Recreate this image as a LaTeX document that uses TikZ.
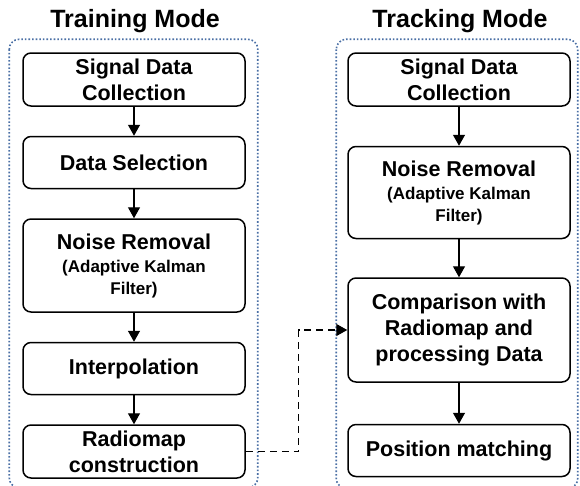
\documentclass[tikz,border=0pt]{standalone}
\usepackage{fontspec}
\setmainfont{Liberation Sans}
\usetikzlibrary{arrows.meta,positioning,calc}
\definecolor{frameblue}{HTML}{4A6FA5}
\newcommand{\subtxt}{\fontsize{17}{20}\selectfont}

\begin{document}
\begin{tikzpicture}[x=1pt,y=1pt,
  node distance=29pt,
  stage/.style={draw,rounded corners=8pt,line width=1.5pt,align=center,
    minimum width=222pt,minimum height=52pt,inner sep=2pt,
    font=\fontsize{21.5}{26}\selectfont\bfseries},
  flow/.style={-{Triangle[length=11pt,width=12pt]},line width=1.3pt},
  mode/.style={dotted,line width=1.6pt,draw=frameblue,rounded corners=10pt},
  heading/.style={font=\fontsize{25}{28}\selectfont\bfseries}]
\useasboundingbox (0,0) rectangle (580,-485);

% training mode column
\node[stage,minimum height=53pt] (tsig) at (134,-79.5) {Signal Data\\Collection};
\node[stage,below=of tsig] (tsel) {Data Selection};
\node[stage,below=of tsel,minimum height=93pt] (tnoise)
  {Noise Removal\\[-3pt]{\subtxt(Adaptive Kalman}\\[-4pt]{\subtxt Filter)}};
\node[stage,below=of tnoise] (tint) {Interpolation};
\node[stage,below=of tint,minimum height=53pt] (trad) {Radiomap\\construction};

% tracking mode column
\node[stage,minimum height=53pt] (ksig) at (459,-79.5) {Signal Data\\Collection};
\node[stage,below=39pt of ksig,minimum height=92pt] (knoise)
  {Noise Removal\\[-3pt]{\subtxt(Adaptive Kalman}\\[-4pt]{\subtxt Filter)}};
\node[stage,below=38pt of knoise,minimum height=104pt] (kcomp)
  {Comparison with\\Radiomap and\\processing Data};
\node[stage,below=41pt of kcomp] (kpos) {Position matching};

% dotted mode frames and headings
\draw[mode] ($(tsig.north west)+(-13,13)$) rectangle ($(trad.south east)+(12,-9)$);
\draw[mode] ($(ksig.north west)+(-11,13)$) rectangle ($(kpos.south east)+(7,-11)$);
\node[heading] (ttitle) at (135,-21) {Training Mode};
\node[heading] (ktitle) at (460,-21) {Tracking Mode};

\draw[flow] (tsig) -- (tsel);
\draw[flow] (tsel) -- (tnoise);
\draw[flow] (tnoise) -- (tint);
\draw[flow] (tint) -- (trad);
\draw[flow] (ksig) -- (knoise);
\draw[flow] (knoise) -- (kcomp);
\draw[flow] (kcomp) -- (kpos);
% radiomap handed over to the tracking side
\draw[flow,dash pattern=on 7pt off 5pt] (trad.east) -- ++(53,0) |- (kcomp.west);
\end{tikzpicture}
\end{document}
